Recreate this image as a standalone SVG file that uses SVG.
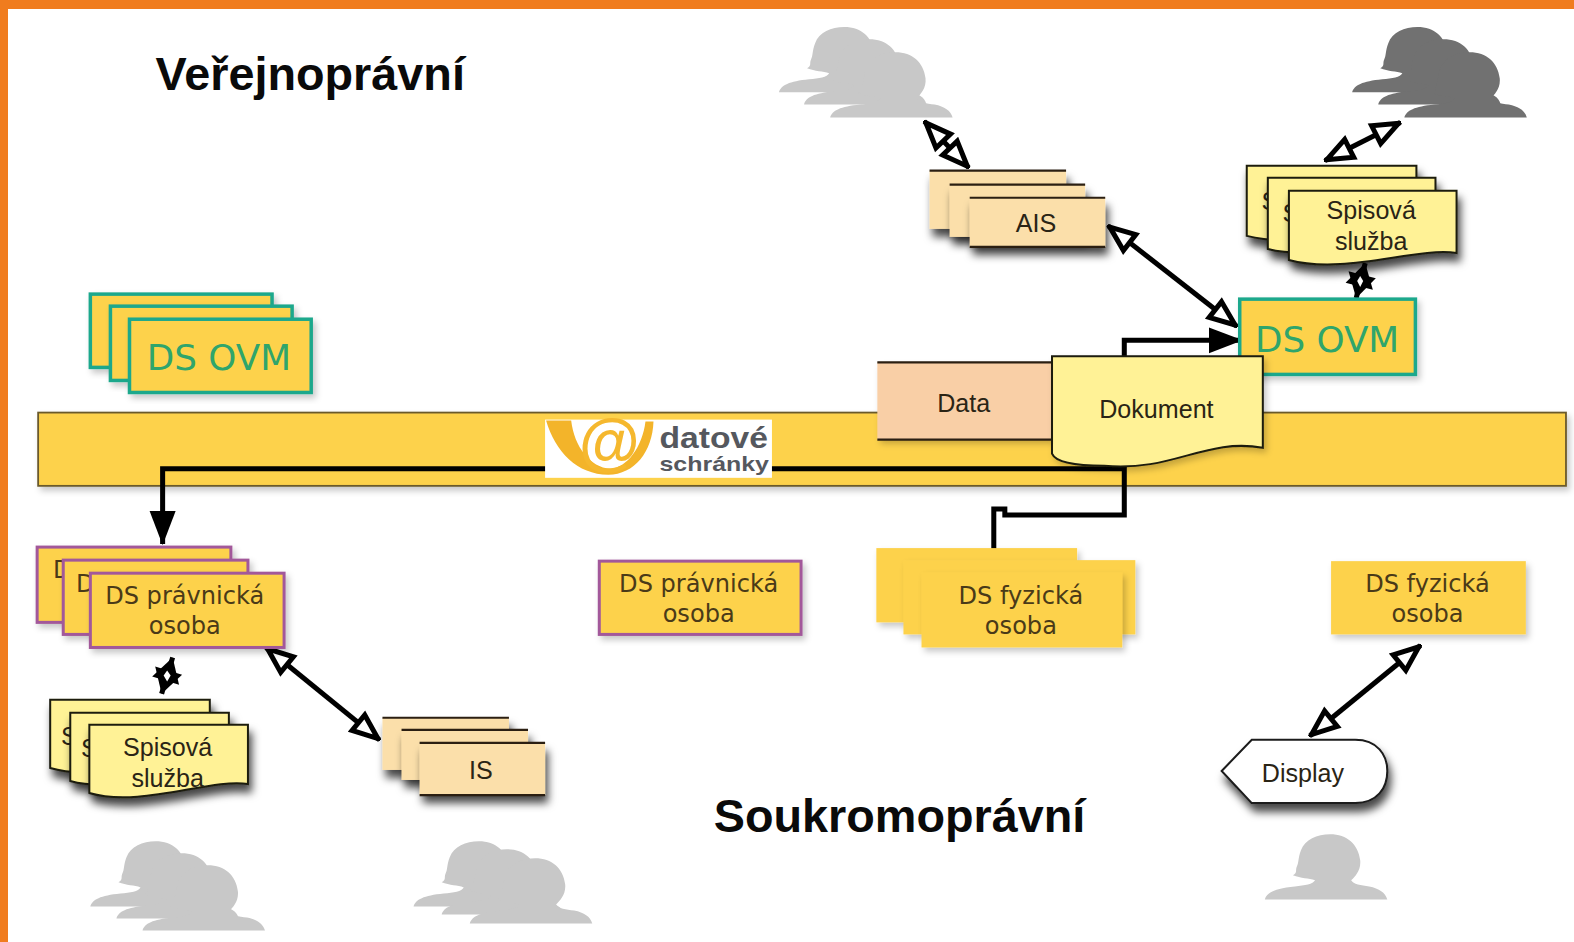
<svg xmlns="http://www.w3.org/2000/svg" xmlns:xlink="http://www.w3.org/1999/xlink" width="1574" height="942" viewBox="0 0 1574 942">
<style>
.ds{font-family:"DejaVu Sans",Verdana,sans-serif;font-size:24px;fill:#4a3a18;text-anchor:middle}
.he{font-family:"Liberation Sans",Arial,sans-serif;font-size:25px;fill:#2a2415;text-anchor:middle}
.ovm{font-family:"DejaVu Sans",Verdana,sans-serif;font-size:35.6px;fill:#2fa56c;text-anchor:middle}
.title{font-family:"Liberation Sans",Arial,sans-serif;font-size:46.6px;font-weight:bold;fill:#0a0a0a}
.logo{font-family:"Liberation Sans",Arial,sans-serif;font-weight:bold;fill:#55585e}
.gov{fill:#fdd24c;stroke:#1ea88c;stroke-width:3.5;filter:url(#soft)}
.leg{fill:#fdd24c;stroke:#a2589a;stroke-width:3;filter:url(#soft)}
.phy{fill:#fdd24c;filter:url(#soft)}
.sys{fill:#fbdfaa;filter:url(#hard)}
.edge{fill:none;stroke:#2b1f12;stroke-width:2.2}
.doc{fill:#fff296;stroke:#1c1c10;stroke-width:2}
.ln{fill:none;stroke:#000;stroke-linejoin:miter}
.two{fill:none;stroke:#000;stroke-width:5;marker-start:url(#open);marker-end:url(#open)}
.mini{fill:none;stroke:#000;stroke-width:5;marker-start:url(#star);marker-end:url(#star)}
</style>
<defs>
<filter id="soft" x="-10%" y="-10%" width="125%" height="125%"><feDropShadow dx="3" dy="4" stdDeviation="3" flood-color="#000" flood-opacity=".22"/></filter>
<filter id="hard" x="-10%" y="-10%" width="125%" height="150%"><feDropShadow dx="3" dy="8" stdDeviation="4" flood-color="#000" flood-opacity=".72"/></filter>
<marker id="open" viewBox="0 0 32 28" refX="31" refY="14" markerWidth="32" markerHeight="28" markerUnits="userSpaceOnUse" orient="auto-start-reverse"><path d="M4,4 L29,14 L4,24 Z" fill="#fff" stroke="#000" stroke-width="5"/></marker>
<marker id="star" viewBox="0 0 26 30" refX="25" refY="15" markerWidth="26" markerHeight="30" markerUnits="userSpaceOnUse" orient="auto-start-reverse"><path d="M1,1 L25,15 L1,29 Z" fill="#000"/></marker>
<marker id="solid" viewBox="0 0 34 28" refX="33" refY="14" markerWidth="34" markerHeight="28" markerUnits="userSpaceOnUse" orient="auto"><path d="M0,1 L34,14 L0,27 Z" fill="#000"/></marker>
<path id="person" d="M0,65 C2,58 10,54 30,52 C40,51 48,50 50,46 C44,44 36,44 28,41 C33,38 30,36 32,32 C34,28 33,24 36,16 C40,5 52,0 65,0 C82,0 93,10 95,26 C96,36 90,42 86,46 C88,50 96,51 104,52 C114,54 120,58 122,65 Z"/>
</defs>
<rect width="1574" height="942" fill="#fff"/>
<rect width="1574" height="9" fill="#f07c1e"/>
<rect width="8" height="942" fill="#f07c1e"/>
<g transform="scale(1.00383)">
<text class="title" x="155" y="90">Veřejnoprávní</text>
<text class="title" x="711" y="829">Soukromoprávní</text>

<g id="band"><rect x="38" y="411" width="1522" height="73" fill="#fdd24c" stroke="#6b5a2c" stroke-width="1.8" filter="url(#soft)"/></g>

<g id="users-ais" fill="#c8c8c8"><use xlink:href="#person" x="776" y="27"/><use xlink:href="#person" x="801" y="39"/><use xlink:href="#person" x="827" y="52"/></g>
<g id="users-spis" fill="#717171"><use xlink:href="#person" x="1347" y="27"/><use xlink:href="#person" x="1373" y="39"/><use xlink:href="#person" x="1399" y="52"/></g>
<g id="users-pravnicka" fill="#c8c8c8"><use xlink:href="#person" x="90" y="838"/><use xlink:href="#person" x="116" y="850"/><use xlink:href="#person" x="142" y="862"/></g>
<g id="users-is" fill="#c8c8c8"><use xlink:href="#person" x="412" y="838"/><use xlink:href="#person" x="440" y="846"/><use xlink:href="#person" x="468" y="855"/></g>
<g id="user-fyzicka" fill="#c8c8c8"><use xlink:href="#person" x="1260" y="831"/></g>

<g id="ds-ovm-stack">
<rect class="gov" x="90" y="293" width="181" height="73"/>
<rect class="gov" x="110" y="305" width="181" height="74"/>
<rect class="gov" x="129" y="318" width="181" height="73"/>
<text class="ovm" x="218" y="369">DS OVM</text>
</g>

<g id="connectors">
<path class="ln" stroke-width="5" d="M1120,467 H162 V542" marker-end="url(#solid)"/>
<path class="ln" stroke-width="5" d="M1120,465 V513 H1001 V507 H990 V549"/>
<path class="ln" stroke-width="5" d="M1120,356 V339 H1237" marker-end="url(#solid)"/>
<path class="two" d="M921,121 L965,167"/>
<path class="two" d="M1395,122 L1320,160"/>
<path class="two" d="M1104,225 L1232,325"/>
<path class="two" d="M265,645 L378,737"/>
<path class="two" d="M1415,643 L1305,733"/>
<path class="mini" d="M1360,262 L1351,297"/>
<path d="M1355,275 L1358,280 L1355,286 L1352,280 Z" fill="#fff"/>
<path class="mini" d="M172,655 L161,691"/>
<path d="M166.500,668 L170,673 L166.500,679 L163,673 Z" fill="#fff"/>
</g>

<g id="ds-ovm"><rect class="gov" x="1235" y="298" width="175" height="75"/><text class="ovm" x="1322" y="351">DS OVM</text></g>

<g id="logo">
<rect x="543" y="418" width="226" height="58" fill="#fff"/>
<path d="M544,419 H569 C572,445 588,466 608,467 C625,466 640,445 643,420 H651 C650,450 632,473 606,473 C575,473 553,450 544,419 Z" fill="#f3b42a"/>
<text x="607" y="461" font-family="Liberation Sans,Arial,sans-serif" font-size="62" font-weight="bold" fill="#f5b82e" text-anchor="middle">@</text>
<text class="logo" x="657" y="446" font-size="29" textLength="108" lengthAdjust="spacingAndGlyphs">datové</text>
<text class="logo" x="657" y="469" font-size="20" textLength="109" lengthAdjust="spacingAndGlyphs">schránky</text>
</g>

<g id="data">
<rect x="874" y="361" width="174" height="77" fill="#f9cfa6" filter="url(#soft)"/>
<path class="edge" d="M874,361 H1048 M874,438 H1048"/>
<text class="he" x="960" y="410">Data</text>
</g>
<g id="dokument">
<path class="doc" filter="url(#soft)" d="M1048,355 H1258 V446 C1200,436 1170,470 1100,464 C1075,464 1052,462 1048,452 Z"/>
<text class="he" x="1152" y="416">Dokument</text>
</g>

<g id="ais">
<rect class="sys" x="926" y="170" width="136" height="58"/><path class="edge" d="M926,170 H1062"/>
<rect class="sys" x="946" y="184" width="135" height="52"/><path class="edge" d="M946,184 H1081"/>
<rect class="sys" x="966" y="197" width="135" height="49"/><path class="edge" d="M966,197 H1101 M966,246 H1101"/>
<text class="he" x="1032" y="231">AIS</text>
</g>

<g id="spisova-ovm">
<path class="doc" filter="url(#hard)" d="M1242,165 H1411 V225 C1370,220 1300,250 1242,235 Z"/>
<text class="he" x="1265" y="209">S</text>
<path class="doc" filter="url(#hard)" d="M1263,177 H1430 V238 C1390,232 1320,262 1263,248 Z"/>
<text class="he" x="1286" y="221">S</text>
<path class="doc" filter="url(#hard)" d="M1284,190 H1451 V252 C1410,246 1340,274 1284,259 Z"/>
<text class="he" x="1366" y="218">Spisová</text>
<text class="he" x="1366" y="249">služba</text>
</g>

<g id="ds-pravnicka-stack">
<rect class="leg" x="37" y="545" width="193" height="75"/>
<text class="ds" x="62" y="576">D</text>
<rect class="leg" x="63" y="558" width="184" height="74"/>
<text class="ds" x="85" y="590">D</text>
<rect class="leg" x="90" y="571" width="193" height="74"/>
<text class="ds" x="184" y="602">DS právnická</text>
<text class="ds" x="184" y="632">osoba</text>
</g>

<g id="ds-pravnicka"><rect class="leg" x="597" y="559" width="201" height="73"/>
<text class="ds" x="696" y="590">DS právnická</text><text class="ds" x="696" y="620">osoba</text></g>

<g id="ds-fyzicka-stack">
<rect class="phy" x="873" y="546" width="200" height="74"/>
<rect class="phy" x="900" y="558" width="231" height="74"/>
<rect class="phy" x="918" y="570" width="200" height="75"/>
<text class="ds" x="1017" y="602">DS fyzická</text><text class="ds" x="1017" y="632">osoba</text>
</g>

<g id="ds-fyzicka"><rect class="phy" x="1326" y="559" width="194" height="73"/>
<text class="ds" x="1422" y="590">DS fyzická</text><text class="ds" x="1422" y="620">osoba</text></g>

<g id="spisova-pravnicka">
<path class="doc" filter="url(#hard)" d="M50,697 H209 V755 C170,750 100,780 50,765 Z"/>
<text class="he" x="69" y="742">S</text>
<path class="doc" filter="url(#hard)" d="M70,710 H228 V768 C190,762 120,792 70,778 Z"/>
<text class="he" x="89" y="754">S</text>
<path class="doc" filter="url(#hard)" d="M89,722 H247 V781 C210,775 140,805 89,790 Z"/>
<text class="he" x="167" y="753">Spisová</text>
<text class="he" x="167" y="784">služba</text>
</g>

<g id="is">
<rect class="sys" x="381" y="715" width="126" height="52"/><path class="edge" d="M381,715 H507"/>
<rect class="sys" x="400" y="727" width="126" height="50"/><path class="edge" d="M400,727 H526"/>
<rect class="sys" x="418" y="740" width="125" height="52"/><path class="edge" d="M418,740 H543 M418,792 H543"/>
<text class="he" x="479" y="776">IS</text>
</g>

<g id="display">
<path d="M1217,768 L1247,737 H1350 C1372,737 1382,752 1382,768 C1382,785 1372,800 1350,800 H1247 Z" fill="#fff" stroke="#1a1a1a" stroke-width="2" filter="url(#hard)"/>
<text class="he" x="1298" y="779">Display</text>
</g>
</g>
</svg>
